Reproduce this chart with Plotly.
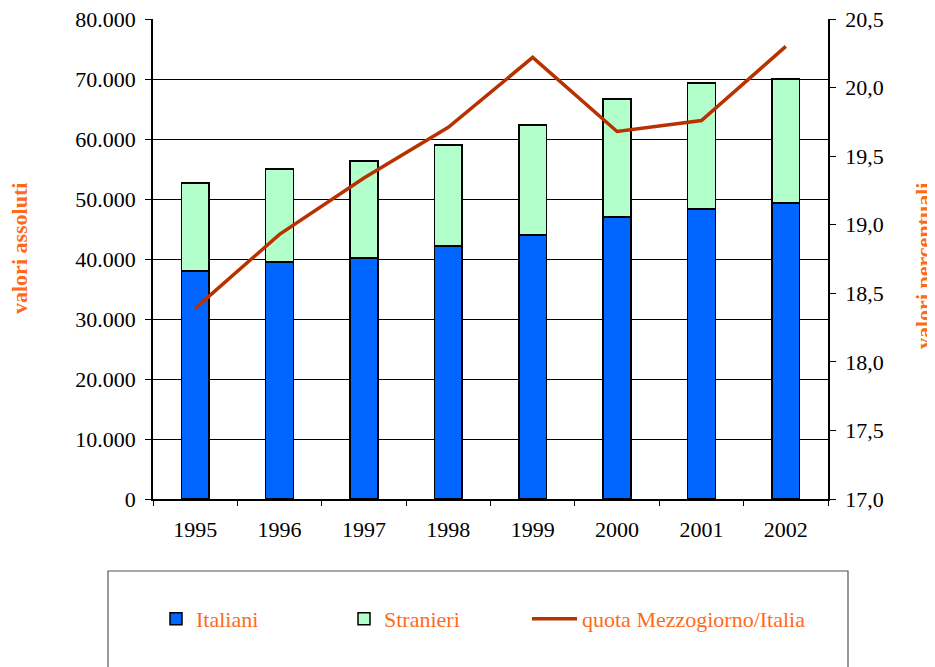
import plotly.graph_objects as go

years = ["1995", "1996", "1997", "1998", "1999", "2000", "2001", "2002"]
italiani = [38000, 39500, 40200, 42200, 44000, 47000, 48300, 49300]
stranieri = [14700, 15500, 16100, 16800, 18300, 19700, 21000, 20700]
quota = [18.39, 18.93, 19.34, 19.71, 20.22, 19.68, 19.76, 20.30]

left_ticks = [0, 10000, 20000, 30000, 40000, 50000, 60000, 70000, 80000]
right_ticks = [17.0, 17.5, 18.0, 18.5, 19.0, 19.5, 20.0, 20.5]

FONT = "Liberation Serif"
ORANGE = "#FF6A1A"
TS = 22

# figure sized to fit the window after the page's 8px body offset
FW, FH = 927, 659
L, R, T, B = 145, 820, 11, 491
W, H = R - L, B - T


def px(x):
    return (x - 8 - L) / W


def py(y):
    return (B - (y - 8)) / H


fig = go.Figure()
fig.add_trace(go.Bar(x=years, y=italiani, name="Italiani", legend="legend",
                     marker=dict(color="#0066FF", line=dict(color="black", width=1.5))))
fig.add_trace(go.Bar(x=years, y=stranieri, name="Stranieri", legend="legend2",
                     marker=dict(color="#B3FFCC", line=dict(color="black", width=1.5))))
fig.add_trace(go.Scatter(x=years, y=quota, name="quota Mezzogiorno/Italia", yaxis="y2",
                         legend="legend3",
                         mode="lines", line=dict(color="#B83200", width=3.5)))

leg_common = dict(orientation="h", xanchor="left", yanchor="middle", y=py(619),
                  font=dict(family=FONT, size=TS, color=ORANGE), bgcolor="rgba(0,0,0,0)")

fig.update_layout(
    width=FW, height=FH,
    margin=dict(l=L, r=FW - R, t=T, b=FH - B, autoexpand=False),
    barmode="stack", bargap=0.67,
    separators=",.",
    paper_bgcolor="white", plot_bgcolor="white",
    font=dict(family=FONT, size=TS, color="black"),
    showlegend=True,
    legend=dict(x=px(196 - 40), **leg_common),
    legend2=dict(x=px(384 - 40), **leg_common),
    legend3=dict(x=px(582 - 55), itemwidth=45, **leg_common),
    xaxis=dict(type="category", showline=True, linecolor="black", linewidth=1.5,
               ticks="outside", tickson="boundaries", ticklen=5, tickcolor="black",
               ticklabelstandoff=10,
               tickfont=dict(family=FONT, size=TS), showgrid=False),
    yaxis=dict(range=[0, 80000], tickvals=left_ticks, tickformat=",d",
               showline=True, linecolor="black", linewidth=1.5,
               ticks="outside", ticklen=6, tickcolor="black", ticklabelstandoff=5,
               ticklabeloverflow="allow",
               showgrid=True, gridcolor="black", gridwidth=1, zeroline=False,
               tickfont=dict(family=FONT, size=TS)),
    yaxis2=dict(range=[17.0, 20.5], tickvals=right_ticks, tickformat=".1f",
                overlaying="y", side="right", showline=True, linecolor="black", linewidth=1.5,
                ticks="outside", ticklen=6, tickcolor="black", ticklabelstandoff=5,
                ticklabeloverflow="allow",
                showgrid=False, zeroline=False,
                tickfont=dict(family=FONT, size=TS)),
)

fig.add_annotation(text="<b>valori assoluti</b>", xref="paper", yref="paper",
                   x=px(20), y=py(249), xanchor="center", yanchor="middle",
                   textangle=-90, showarrow=False, borderpad=0,
                   font=dict(family=FONT, size=22, color=ORANGE))
fig.add_annotation(text="<b>valori percentuali</b>", xref="paper", yref="paper",
                   x=px(923), y=py(266), xanchor="center", yanchor="middle",
                   textangle=-90, showarrow=False, borderpad=0,
                   font=dict(family=FONT, size=22, color=ORANGE))

# legend frame
fig.add_shape(type="rect", xref="paper", yref="paper",
              x0=px(108), x1=px(848), y0=py(571), y1=py(690),
              line=dict(color="#555555", width=1.2), fillcolor="rgba(0,0,0,0)")

fig.write_html("out.html")
